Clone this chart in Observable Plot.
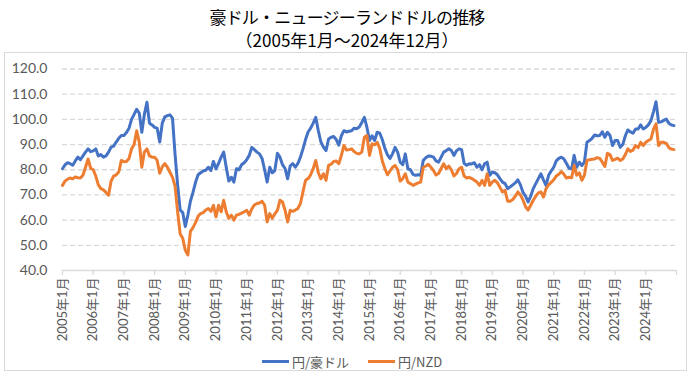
<!DOCTYPE html>
<html><head><meta charset="utf-8">
<script src="https://cdn.jsdelivr.net/npm/d3@7"></script>
<script src="https://cdn.jsdelivr.net/npm/@observablehq/plot@0.6"></script>
<style>
body{margin:0;background:#fff;}
#wrap{position:relative;width:694px;height:391px;overflow:hidden;font-family:Lato,"Noto Sans CJK JP",sans-serif;}
.title{position:absolute;left:0;width:694px;text-align:center;font-family:"Noto Sans CJK JP",sans-serif;font-size:17px;line-height:20px;height:20px;color:#000;font-weight:400;}
#box{position:absolute;left:4px;top:52px;width:683px;height:319px;border:1px solid #d9d9d9;box-sizing:border-box;}
#chart{position:absolute;left:0;top:0;}
.leg{position:absolute;top:351px;height:20px;display:flex;align-items:center;font-size:13px;color:#595959;font-family:"Noto Sans CJK JP",sans-serif;}
.sw{display:inline-block;width:27px;height:3px;margin-right:3px;}
</style></head>
<body>
<div id="wrap">
<div id="box"></div>
<div class="title" style="top:7px;letter-spacing:-0.8px">豪ドル・ニュージーランドドルの推移</div>
<div class="title" style="top:30px;letter-spacing:0px">（2005年1月～2024年12月）</div>
<div id="chart"></div>
<div class="leg" style="left:262px"><span class="sw" style="background:#4472C4"></span>円/豪ドル</div>
<div class="leg" style="left:368px"><span class="sw" style="background:#ED7D31"></span>円/NZD</div>
</div>
<script>
const seriesNames = ["円/豪ドル", "円/NZD"];
const xTickLabels = ["2005年1月","2006年1月","2007年1月","2008年1月","2009年1月","2010年1月","2011年1月","2012年1月","2013年1月","2014年1月","2015年1月","2016年1月","2017年1月","2018年1月","2019年1月","2020年1月","2021年1月","2022年1月","2023年1月","2024年1月"];
const yTicks = [40,50,60,70,80,90,100,110,120];
// 円/豪ドル, monthly 2005-01 .. 2024-12
const aud = [
80.4,82.0,82.8,82.4,81.8,83.5,85.0,84.0,85.5,87.0,88.3,87.2,
87.5,88.3,85.5,86.0,85.0,85.5,87.0,89.0,89.4,91.0,92.5,93.6,
93.6,94.8,96.5,100.0,102.0,104.0,102.5,94.9,102.0,106.8,98.5,97.8,
96.8,96.5,91.0,98.5,101.0,101.5,101.8,100.5,86.0,74.0,64.0,63.0,
57.5,62.0,67.5,71.0,75.0,78.0,78.8,79.5,79.8,81.0,79.7,83.3,
80.4,82.5,85.0,87.0,81.0,75.5,77.0,75.1,80.4,80.0,82.0,82.8,
84.0,85.7,88.9,88.0,87.0,86.3,84.5,80.0,75.1,81.0,78.8,79.7,
86.5,85.0,82.0,80.5,76.4,81.5,82.4,81.0,82.5,85.0,88.3,92.0,
95.0,96.5,98.5,100.8,95.5,91.0,89.0,87.6,92.2,92.9,93.2,92.0,
89.8,93.5,95.5,95.0,95.3,95.5,96.5,96.3,97.0,98.8,100.8,96.8,
91.6,93.5,91.6,94.9,94.5,92.0,88.5,86.0,84.5,86.3,88.9,87.0,
83.0,82.0,86.3,80.4,80.0,78.2,77.8,78.0,77.8,83.7,84.8,85.5,
85.4,85.0,83.5,83.0,85.0,87.0,87.6,88.3,87.6,85.7,87.5,88.3,
88.0,82.5,81.8,82.4,82.3,82.8,81.0,82.0,80.0,82.4,83.0,77.8,
79.1,78.8,78.0,76.5,75.1,74.5,72.5,73.2,74.0,74.8,76.0,74.0,
71.0,69.5,67.2,69.5,72.5,74.5,76.5,78.4,76.0,73.8,77.8,79.5,
81.0,83.5,84.5,85.0,84.3,82.5,80.6,80.4,85.7,81.0,83.0,81.7,
83.0,90.9,91.6,92.5,93.8,93.5,93.6,95.1,92.9,94.9,93.6,89.6,
91.6,91.6,88.9,90.0,93.5,95.8,95.0,94.5,96.2,96.2,97.8,96.2,
96.8,97.8,99.5,103.0,107.0,98.8,99.0,99.6,100.1,98.5,97.8,97.5
];
// 円/NZD, monthly 2005-01 .. 2024-12
const nzd = [
73.8,75.5,76.3,76.7,76.4,77.1,76.8,76.7,77.8,81.0,84.3,80.6,
80.0,77.5,74.0,72.5,72.0,71.0,69.9,75.5,77.5,78.0,79.1,83.7,
83.2,83.3,84.5,88.3,90.0,95.5,91.0,81.0,87.0,88.3,85.5,85.0,
85.0,83.7,78.6,81.2,82.4,81.0,79.0,77.0,73.5,63.3,54.5,52.8,
48.0,46.2,55.5,57.0,59.0,61.5,62.6,63.0,64.0,64.6,63.5,65.9,
61.3,65.9,63.3,67.9,63.3,60.7,62.0,60.0,62.0,62.3,62.8,63.3,
63.9,62.0,64.5,66.0,66.6,66.8,67.5,65.9,59.3,62.6,60.7,62.5,
63.9,67.9,67.2,63.9,59.3,63.9,63.5,64.0,64.6,66.6,71.2,75.8,
76.5,78.0,80.5,83.7,78.8,76.4,78.4,75.8,81.7,82.2,83.3,83.5,
82.4,85.7,89.6,87.8,88.0,88.3,87.2,86.5,86.3,87.0,92.9,93.6,
85.7,90.3,89.9,90.9,88.5,83.5,80.5,78.0,79.5,81.0,81.7,80.0,
75.5,76.5,78.4,75.1,74.5,73.8,74.3,74.8,75.1,81.0,81.5,82.2,
81.0,79.7,77.9,78.5,80.5,82.4,80.4,81.5,80.0,77.5,78.5,80.4,
81.0,77.5,76.7,77.0,76.5,75.8,75.1,73.8,75.8,73.8,78.4,73.8,
75.1,75.8,74.8,73.0,71.2,71.8,67.5,67.5,68.2,69.5,71.2,70.0,
68.0,65.3,64.0,65.9,67.9,69.5,70.8,71.2,69.2,72.5,74.0,75.0,
76.0,77.5,78.2,79.3,78.2,76.7,77.0,76.8,81.7,77.8,78.8,75.8,
77.8,83.7,84.0,84.2,84.3,84.8,84.5,83.0,81.3,86.5,86.0,83.7,
84.1,84.6,83.7,84.3,86.0,88.3,87.3,87.8,89.6,88.8,90.9,89.6,
90.9,91.6,92.2,96.0,98.2,89.6,90.9,90.9,90.5,88.8,88.2,88.0
];
const nMonths = aud.length;
const yearTicks = d3.range(0, nMonths + 1, 12);
const labelTicks = yearTicks.slice(0, xTickLabels.length);

const chart = Plot.plot({
  width: 694, height: 391,
  marginTop: 68.5, marginBottom: 121, marginLeft: 62, marginRight: 18,
  x: {type: "linear", domain: [0, nMonths]},
  y: {domain: [40, 120]},
  style: {background: "transparent", color: "#595959", fontFamily: "Lato, 'Noto Sans CJK JP', sans-serif"},
  marks: [
    Plot.ruleY(yTicks.slice(1), {stroke: "#d9d9d9", strokeWidth: 1.3, strokeDasharray: "5,3"}),
    Plot.ruleY([40], {stroke: "#d9d9d9", strokeWidth: 1.3}),
    Plot.ruleX(yearTicks, {y1: 40, y2: 38, stroke: "#d9d9d9", strokeWidth: 1.3}),
    Plot.axisY({ticks: yTicks, tickFormat: d => d.toFixed(1), tickSize: 0, tickPadding: 15, fontSize: 14}),
    Plot.axisX({ticks: labelTicks, tickFormat: i => xTickLabels[i / 12], tickRotate: -90, tickSize: 0, tickPadding: 7, fontSize: 13}),
    Plot.line(aud, {x: (d, i) => i, y: d => d, stroke: "#4472C4", strokeWidth: 3, strokeLinejoin: "round", strokeLinecap: "round"}),
    Plot.line(nzd, {x: (d, i) => i, y: d => d, stroke: "#ED7D31", strokeWidth: 3, strokeLinejoin: "round", strokeLinecap: "round"})
  ]
});
document.getElementById("chart").appendChild(chart);
</script>
</body></html>
